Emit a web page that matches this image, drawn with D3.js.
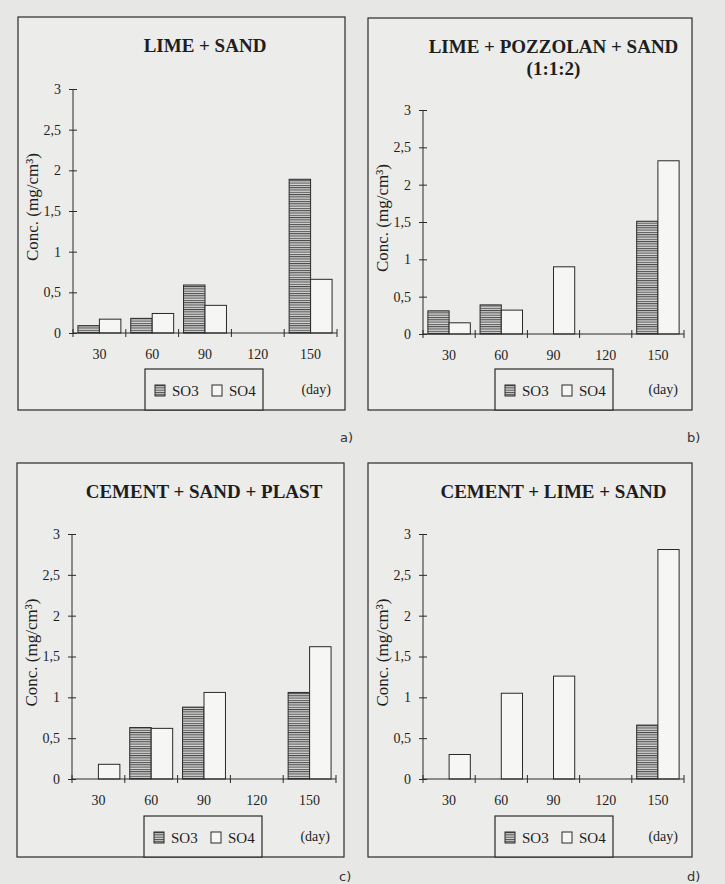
<!DOCTYPE html>
<html>
<head>
<meta charset="utf-8">
<script src="https://cdn.jsdelivr.net/npm/d3@7"></script>
<style>
  body { margin: 0; background: #e7e7e5; }
  svg { display: block; }
  text { font-family: "Liberation Serif", "DejaVu Serif", serif; fill: #1e1e1e; }
  .title { font-weight: bold; font-size: 19px; }
  .tick text { font-size: 14px; font-family: "Liberation Serif", serif; fill: #1e1e1e; }
  .panel-tag { font-family: "DejaVu Sans", sans-serif; font-size: 13px; fill: #333; }
</style>
</head>
<body>
<svg id="chart" width="725" height="884"></svg>
<script>
// categories and tick labels
const days = ["30", "60", "90", "120", "150"];
const yTicks = [0, 0.5, 1, 1.5, 2, 2.5, 3];
const seriesNames = ["SO3", "SO4"];

// values (mg/cm3), 0 = no bar
const limeSandSO3 = [0.09, 0.18, 0.59, 0, 1.89];
const limeSandSO4 = [0.17, 0.24, 0.34, 0, 0.66];
const pozzolanSO3 = [0.31, 0.39, 0, 0, 1.51];
const pozzolanSO4 = [0.15, 0.32, 0.90, 0, 2.32];
const plastSO3 = [0, 0.63, 0.88, 0, 1.06];
const plastSO4 = [0.18, 0.62, 1.06, 0, 1.62];
const cementLimeSO3 = [0, 0, 0, 0, 0.66];
const cementLimeSO4 = [0.30, 1.05, 1.26, 0, 2.81];

const titles = [
  ["LIME + SAND"],
  ["LIME + POZZOLAN + SAND", "(1:1:2)"],
  ["CEMENT + SAND + PLAST"],
  ["CEMENT + LIME + SAND"]
];
const tags = ["a)", "b)", "c)", "d)"];

const panels = [
  { x: 18, y: 17, w: 327, h: 393, top: 72, so3: limeSandSO3, so4: limeSandSO4 },
  { x: 368, y: 18, w: 324, h: 392, top: 92, so3: pozzolanSO3, so4: pozzolanSO4 },
  { x: 17, y: 463, w: 327, h: 394, top: 71, so3: plastSO3, so4: plastSO4 },
  { x: 368, y: 463, w: 324, h: 394, top: 71, so3: cementLimeSO3, so4: cementLimeSO4 }
];

const svg = d3.select("#chart");
const ink = "#2a2a2a";
const serif = "Liberation Serif, DejaVu Serif, serif";
const fmt = d3.formatLocale({ decimal: ",", thousands: ".", grouping: [3], currency: ["", ""] }).format("~g");

// horizontal hatching for SO3
const pat = svg.append("defs").append("pattern")
  .attr("id", "hatch").attr("patternUnits", "userSpaceOnUse")
  .attr("width", 6).attr("height", 2.3);
pat.append("rect").attr("width", 6).attr("height", 2.3).attr("fill", "#d4d4d4");
pat.append("rect").attr("width", 6).attr("height", 1).attr("fill", "#4a4a4a");

panels.forEach((p, i) => {
  const g = svg.append("g").attr("transform", `translate(${p.x},${p.y})`);
  g.append("rect").attr("width", p.w).attr("height", p.h)
    .attr("fill", "#ececea").attr("stroke", ink).attr("stroke-width", 1.2);

  const x0 = 55, x1 = p.w - 8, y0 = 316;
  const x = d3.scaleBand().domain(days).range([x0, x1]).paddingInner(0).paddingOuter(0);
  const xs = d3.scaleBand().domain(seriesNames).range([0, x.bandwidth()]).paddingOuter(0.23).paddingInner(0);
  const y = d3.scaleLinear().domain([0, 3]).range([y0, p.top]);

  // title, centred on plot area
  titles[i].forEach((t, k) => {
    g.append("text").attr("class", "title")
      .attr("x", (x0 + x1) / 2).attr("y", 35 + k * 22)
      .attr("text-anchor", "middle").text(t);
  });

  // bars
  const rows = days.map((d, j) => ({ day: d, SO3: p.so3[j], SO4: p.so4[j] }));
  const grp = g.selectAll(".grp").data(rows).enter().append("g")
    .attr("transform", d => `translate(${x(d.day)},0)`);
  grp.selectAll("rect")
    .data(d => seriesNames.map(s => ({ s, v: d[s] })).filter(e => e.v > 0))
    .enter().append("rect")
    .attr("x", d => xs(d.s)).attr("width", xs.bandwidth())
    .attr("y", d => y(d.v)).attr("height", d => y0 - y(d.v))
    .attr("fill", d => d.s === "SO3" ? "url(#hatch)" : "#f6f6f4")
    .attr("stroke", ink).attr("stroke-width", 1);

  // y axis with crossing ticks
  const ya = g.append("g").attr("transform", `translate(${x0},0)`)
    .call(d3.axisLeft(y).tickValues(yTicks).tickFormat(fmt).tickSize(4).tickPadding(8))
    .attr("font-family", serif).attr("font-size", 14);
  ya.selectAll(".tick line").attr("x1", 4).attr("x2", -4).attr("stroke", ink);
  ya.select(".domain").attr("stroke", ink).attr("d", `M0,${y0}V${p.top}`);

  // x axis: labels centred in bands, ticks at band boundaries
  const xa = g.append("g").attr("transform", `translate(0,${y0})`)
    .call(d3.axisBottom(x).tickSize(0).tickPadding(16))
    .attr("font-family", serif).attr("font-size", 14);
  xa.select(".domain").attr("stroke", ink).attr("d", `M${x0},0H${x1}`);
  const bounds = days.map(d => x(d)).concat([x1]);
  xa.selectAll(".bound").data(bounds).enter().append("line")
    .attr("x1", d => d).attr("x2", d => d).attr("y1", -4).attr("y2", 4)
    .attr("stroke", ink);

  // y label
  g.append("text")
    .attr("transform", `translate(${20},${(y0 + p.top) / 2 - 4}) rotate(-90)`)
    .attr("text-anchor", "middle").style("font-size", "17px")
    .text("Conc. (mg/cm³)");

  // legend box
  const lg = g.append("g").attr("transform", `translate(127,${p.h - 41})`);
  lg.append("rect").attr("width", 118).attr("height", 41)
    .attr("fill", "#ececea").attr("stroke", ink).attr("stroke-width", 1.2);
  seriesNames.forEach((s, k) => {
    const lx = 10 + k * 57;
    lg.append("rect").attr("x", lx).attr("y", 16).attr("width", 10).attr("height", 11)
      .attr("fill", s === "SO3" ? "url(#hatch)" : "#f6f6f4")
      .attr("stroke", ink).attr("stroke-width", 1);
    lg.append("text").attr("x", lx + 17).attr("y", 27).style("font-size", "15px").text(s);
  });
  g.append("text").attr("x", p.w - 14).attr("y", p.h - 16)
    .attr("text-anchor", "end").style("font-size", "14px").text("(day)");

  // panel tag
  svg.append("text").attr("class", "panel-tag")
    .attr("x", p.x + p.w - 5).attr("y", Math.min(p.y + p.h + 32, 881))
    .text(tags[i]);
});
</script>
</body>
</html>
